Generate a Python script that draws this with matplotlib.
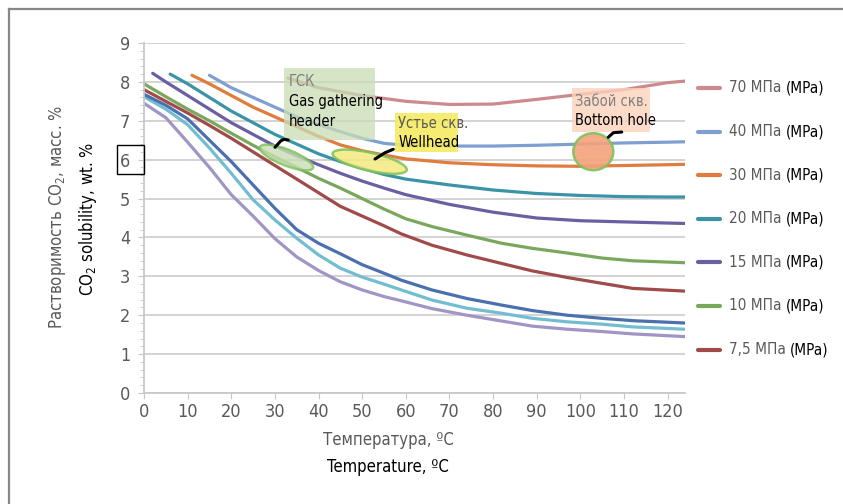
import matplotlib.pyplot as plt
from matplotlib import font_manager
from matplotlib.lines import Line2D
from matplotlib.patches import Ellipse, Rectangle

# pick a narrow font if there is one
narrow = [f for f in font_manager.fontManager.ttflist
          if ('Condensed' in f.name or 'Narrow' in f.name
              or f.stretch in ('condensed', 'semi-condensed', 'extra-condensed'))
          and f.style == 'normal']
if narrow:
    FONT, STRETCH, K = narrow[0].name, narrow[0].stretch, 1.0
else:
    FONT, STRETCH, K = 'Liberation Sans', 'normal', 0.82
plt.rcParams['font.family'] = [FONT, 'DejaVu Sans']
plt.rcParams['font.stretch'] = STRETCH

# ---- data (temperature, solubility wt.%) ----
t_70 = [33, 40, 50, 60, 70, 80, 90, 100, 110, 120, 124]
s_70 = [8.1, 7.85, 7.65, 7.5, 7.42, 7.43, 7.55, 7.68, 7.8, 7.98, 8.02]

t_40 = [15, 20, 25, 30, 35, 40, 45, 50, 55, 60, 70, 80, 90, 100, 110, 120, 124]
s_40 = [8.17, 7.85, 7.6, 7.35, 7.1, 6.9, 6.72, 6.55, 6.42, 6.37, 6.35, 6.35, 6.37, 6.4, 6.43, 6.45, 6.46]

t_30 = [11, 15, 20, 25, 30, 35, 40, 45, 50, 55, 60, 70, 80, 90, 100, 110, 120, 124]
s_30 = [8.17, 7.95, 7.65, 7.35, 7.1, 6.85, 6.6, 6.38, 6.23, 6.12, 6.02, 5.92, 5.87, 5.84, 5.83, 5.85, 5.87, 5.88]

t_20 = [6, 10, 15, 20, 25, 30, 35, 40, 45, 50, 55, 60, 70, 80, 90, 100, 110, 120, 124]
s_20 = [8.2, 7.95, 7.6, 7.25, 6.95, 6.65, 6.4, 6.15, 5.95, 5.78, 5.62, 5.5, 5.35, 5.22, 5.13, 5.08, 5.05, 5.04, 5.04]

t_15 = [2, 5, 10, 15, 20, 25, 30, 35, 40, 45, 50, 55, 60, 70, 80, 90, 100, 110, 120, 124]
s_15 = [8.22, 8.0, 7.65, 7.3, 6.95, 6.65, 6.35, 6.1, 5.87, 5.65, 5.45, 5.27, 5.1, 4.85, 4.65, 4.5, 4.43, 4.4, 4.37, 4.36]

t_10 = [0, 5, 10, 15, 20, 25, 30, 35, 40, 45, 50, 55, 60, 66, 74, 82, 89, 97, 105, 112, 124]
s_10 = [7.95, 7.62, 7.3, 7.0, 6.68, 6.37, 6.07, 5.8, 5.52, 5.27, 5.0, 4.73, 4.48, 4.28, 4.06, 3.85, 3.72, 3.6, 3.47, 3.4, 3.35]

t_75 = [0, 5, 10, 15, 20, 25, 30, 35, 40, 45, 50, 55, 59, 66, 74, 82, 89, 97, 105, 112, 124]
s_75 = [7.8, 7.5, 7.2, 6.88, 6.55, 6.2, 5.85, 5.5, 5.15, 4.8, 4.55, 4.3, 4.09, 3.8, 3.55, 3.33, 3.14, 2.97, 2.82, 2.69, 2.62]

t_low = [0, 5, 10, 15, 20, 25, 30, 35, 40, 45, 50, 55, 59, 66, 74, 82, 89, 97, 105, 112, 124]
s_a = [7.68, 7.4, 7.05, 6.5, 5.95, 5.35, 4.75, 4.2, 3.85, 3.58, 3.3, 3.08, 2.9, 2.65, 2.43, 2.26, 2.12, 2.0, 1.92, 1.86, 1.8]
s_b = [7.62, 7.3, 6.9, 6.3, 5.65, 4.97, 4.45, 3.98, 3.55, 3.21, 2.98, 2.8, 2.65, 2.39, 2.18, 2.05, 1.92, 1.83, 1.77, 1.7, 1.64]
s_c = [7.45, 7.08, 6.45, 5.8, 5.1, 4.55, 3.97, 3.5, 3.15, 2.86, 2.65, 2.48, 2.37, 2.17, 2.0, 1.85, 1.72, 1.64, 1.58, 1.52, 1.45]

legend_labels = ['70 МПа', '40 МПа', '30 МПа', '20 МПа', '15 МПа', '10 МПа', '7,5 МПа']
colors = ['#CC8A8F', '#7F9FD0', '#E07C3C', '#3A94A6', '#6A5FA1', '#79A85C', '#A14A4A']

fig = plt.figure(figsize=(8.43, 5.04), dpi=100)
ax = fig.add_axes([144 / 843, 1 - 393 / 504, 541 / 843, 350 / 504])

# unlabelled lower curves first
ax.plot(t_low, s_c, color='#A095C4', lw=2.3)
ax.plot(t_low, s_b, color='#72BDD1', lw=2.3)
ax.plot(t_low, s_a, color='#4A70B0', lw=2.3)

series = [(t_70, s_70), (t_40, s_40), (t_30, s_30), (t_20, s_20),
          (t_15, s_15), (t_10, s_10), (t_75, s_75)]
for (t, s), c in zip(series, colors):
    ax.plot(t, s, color=c, lw=2.3, solid_capstyle='round')

ax.set_xlim(0, 124)
ax.set_ylim(0, 9)
ax.set_xticks(range(0, 121, 10))
ax.set_yticks(range(0, 10))
ax.set_yticks([i / 5 for i in range(0, 46)], minor=True)
ax.grid(axis='y', color='#D0D0D0', lw=1.3)
ax.set_axisbelow(True)
for sp in ['top', 'right']:
    ax.spines[sp].set_visible(False)
for sp in ['left', 'bottom']:
    ax.spines[sp].set_color('#C8C8C8')
    ax.spines[sp].set_linewidth(1.3)
ax.tick_params(colors='#C8C8C8', labelcolor='#595959', labelsize=13 * K, length=4)
ax.tick_params(axis='y', which='minor', colors='#C8C8C8', length=3)
ax.tick_params(axis='y', pad=6)

# framed "6" tick label
fig.add_artist(Rectangle((117 / 843, 1 - 174 / 504), 27 / 843, 29 / 504,
                         transform=fig.transFigure, facecolor='none',
                         edgecolor='black', lw=1.0, zorder=10))

# axis titles
fs = 12 * K
fig.text(58 / 843, 1 - 217 / 504, 'Растворимость CO$_2$, масс. %', rotation=90,
         ha='center', va='center', color='#595959', fontsize=fs)
fig.text(88 / 843, 1 - 219 / 504, 'CO$_2$ solubility, wt. %', rotation=90,
         ha='center', va='center', color='black', fontsize=fs)
fig.text(388 / 843, 1 - 440 / 504, 'Температура, ºC', ha='center', va='center',
         color='#595959', fontsize=fs)
fig.text(388 / 843, 1 - 467 / 504, 'Temperature, ºC', ha='center', va='center',
         color='black', fontsize=fs)

# legend drawn by hand (two-colour text)
for i, (lab, c) in enumerate(zip(legend_labels, colors)):
    y = 1 - (88 + 43.6 * i) / 504
    fig.add_artist(Line2D([698 / 843, 720 / 843], [y, y], color=c, lw=3, solid_capstyle='round'))
    t1 = fig.text(729 / 843, y, lab + ' ', ha='left', va='center', color='#595959', fontsize=11 * K)
    ax.annotate('(MPa)', xy=(1, 0.5), xycoords=t1, ha='left', va='center',
                color='black', fontsize=11 * K, annotation_clip=False)

# callout boxes
fb = 10.5 * K
ax.add_patch(Rectangle((32.1, 6.5), 20.9, 1.85, facecolor='#C9DDB4', alpha=0.75, edgecolor='none', zorder=5))
ax.text(33.2, 8.0, 'ГСК', color='#7F7F7F', fontsize=fb, zorder=6, va='center')
ax.text(33.2, 7.5, 'Gas gathering', color='black', fontsize=fb, zorder=6, va='center')
ax.text(33.2, 6.98, 'header', color='black', fontsize=fb, zorder=6, va='center')

ax.add_patch(Rectangle((57.6, 6.2), 14.4, 1.0, facecolor='#F4EA62', alpha=0.9, edgecolor='none', zorder=5))
ax.text(58.3, 6.93, 'Устье скв.', color='#595959', fontsize=fb, zorder=6, va='center')
ax.text(58.3, 6.45, 'Wellhead', color='black', fontsize=fb, zorder=6, va='center')

ax.add_patch(Rectangle((98.2, 6.71), 17.8, 1.13, facecolor='#FCD3BC', alpha=0.8, edgecolor='none', zorder=5))
ax.text(98.8, 7.5, 'Забой скв.', color='#7F7F7F', fontsize=fb, zorder=6, va='center')
ax.text(98.8, 7.02, 'Bottom hole', color='black', fontsize=fb, zorder=6, va='center')

# ellipses and pointers in pixel space (inches)
def px(x, y):
    return (x / 100, (504 - y) / 100)

tr = fig.dpi_scale_trans
fig.add_artist(Ellipse(px(286.5, 157.5), 0.57, 0.16, angle=-21.6, transform=tr,
                       facecolor='#C9DDB4', alpha=0.8, edgecolor='#7DC25A', lw=1.8, zorder=7))
fig.add_artist(Ellipse(px(369.7, 161.7), 0.76, 0.18, angle=-12.7, transform=tr,
                       facecolor='#F4EA80', alpha=0.85, edgecolor='#7DC25A', lw=1.8, zorder=7))
fig.add_artist(Ellipse(px(593.3, 151.7), 0.40, 0.37, transform=tr,
                       facecolor='#F4A27A', alpha=0.9, edgecolor='#7DC25A', lw=1.8, zorder=7))

for pts in [[(275, 147.3), (280.7, 141), (284, 139.3), (288.3, 140)],
            [(375, 159), (385, 152.7), (393.3, 149.3)],
            [(608.3, 137.3), (613.3, 132.7), (621.7, 132)]]:
    xs = [px(*p)[0] for p in pts]
    ys = [px(*p)[1] for p in pts]
    fig.add_artist(Line2D(xs, ys, transform=tr, color='black', lw=2.2,
                          solid_capstyle='round', zorder=8))

# outer frame (top and left edges)
fig.add_artist(Line2D([9 / 843, 1], [1 - 9 / 504, 1 - 9 / 504], color='#8A8683', lw=1.6))
fig.add_artist(Line2D([9 / 843, 9 / 843], [0, 1 - 9 / 504], color='#8A8683', lw=1.6))

fig.savefig('out.png', dpi=100)
